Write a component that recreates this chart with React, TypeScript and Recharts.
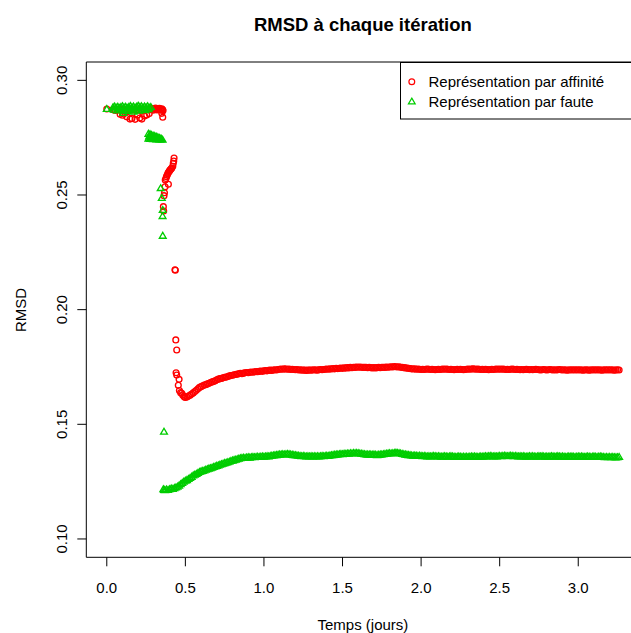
import { Legend, ReferenceLine, Scatter, ScatterChart, XAxis, YAxis } from 'recharts';

// RMSD à chaque itération : deux représentations, temps en jours
const affiniteDebut: [number, number][] = [
  [0, 0.2875],
  [0.04, 0.2872], [0.055, 0.2869], [0.07, 0.2873], [0.085, 0.287], [0.1, 0.2874], [0.115, 0.2871],
  [0.13, 0.2868], [0.145, 0.2872], [0.16, 0.287], [0.175, 0.2874], [0.19, 0.2869], [0.205, 0.2872],
  [0.22, 0.287], [0.235, 0.2873], [0.25, 0.2871], [0.265, 0.2874],
  [0.085, 0.2852], [0.1, 0.2848], [0.115, 0.2856], [0.127, 0.2841], [0.148, 0.2831], [0.16, 0.2834],
  [0.18, 0.283], [0.195, 0.2849], [0.21, 0.2836], [0.223, 0.2831], [0.24, 0.2845], [0.254, 0.2849],
  [0.27, 0.2855],
  [0.275, 0.2876], [0.28, 0.2872], [0.285, 0.2878], [0.29, 0.2874], [0.295, 0.287], [0.3, 0.2877],
  [0.305, 0.2873], [0.31, 0.2879], [0.315, 0.2875], [0.32, 0.2871], [0.325, 0.2876], [0.33, 0.2873],
  [0.335, 0.2878], [0.34, 0.2874], [0.345, 0.287], [0.35, 0.2876], [0.355, 0.2872], [0.358, 0.2868],
  [0.35, 0.2856], [0.356, 0.2839],
  [0.36, 0.2449], [0.362, 0.243], [0.364, 0.2497], [0.367, 0.251], [0.371, 0.2536], [0.372, 0.2565],
  [0.376, 0.2572], [0.38, 0.258], [0.384, 0.2586], [0.388, 0.2593], [0.392, 0.2598], [0.392, 0.2547],
  [0.396, 0.2602], [0.4, 0.2606], [0.404, 0.261], [0.408, 0.2613], [0.413, 0.2617], [0.42, 0.2625],
  [0.423, 0.2638], [0.426, 0.2648], [0.428, 0.2661],
  [0.434, 0.2174], [0.436, 0.2172], [0.439, 0.1868], [0.445, 0.1824], [0.441, 0.1725], [0.445, 0.1715],
  [0.46, 0.1696], [0.455, 0.167], [0.462, 0.1647], [0.47, 0.1638], [0.477, 0.1635], [0.483, 0.1628],
  [0.49, 0.1622], [0.495, 0.1619],
];

const fauteDebut: [number, number][] = [
  [0, 0.2874],
  [0.04, 0.2882], [0.05, 0.2885], [0.06, 0.288], [0.07, 0.2884], [0.08, 0.2879], [0.09, 0.2883],
  [0.1, 0.2886], [0.11, 0.2881], [0.12, 0.2884], [0.13, 0.2879], [0.14, 0.2883], [0.15, 0.2887],
  [0.16, 0.2882], [0.17, 0.2885], [0.18, 0.288], [0.19, 0.2884], [0.2, 0.2888], [0.21, 0.2883],
  [0.22, 0.2886], [0.23, 0.2881], [0.24, 0.2885], [0.25, 0.2882], [0.26, 0.2886], [0.27, 0.288],
  [0.28, 0.2883],
  [0.045, 0.2871], [0.065, 0.2868], [0.085, 0.2873], [0.105, 0.2869], [0.125, 0.2866], [0.145, 0.2872],
  [0.165, 0.2868], [0.185, 0.2871], [0.205, 0.2867], [0.225, 0.2872], [0.245, 0.2869], [0.265, 0.2873],
  [0.105, 0.2857], [0.17, 0.2862],
  [0.265, 0.2766], [0.275, 0.2764], [0.285, 0.2761], [0.295, 0.2758], [0.305, 0.2756], [0.315, 0.2753],
  [0.325, 0.2751], [0.335, 0.2748], [0.345, 0.2746],
  [0.27, 0.2755], [0.28, 0.2752], [0.29, 0.275], [0.3, 0.2749], [0.31, 0.2747],
  [0.265, 0.2745], [0.275, 0.2744], [0.285, 0.2745], [0.295, 0.2743], [0.305, 0.2744], [0.315, 0.2742],
  [0.325, 0.2743], [0.335, 0.2741], [0.345, 0.2742], [0.355, 0.274],
  [0.343, 0.2529], [0.35, 0.2486], [0.356, 0.2434], [0.355, 0.2407], [0.356, 0.2321], [0.364, 0.1467],
  [0.36, 0.1216], [0.365, 0.1213],
];

// plateaux échantillonnés tous les 0.01 jour
const pasPlateau = 0.01;
const affinitePlateauDebut = 0.5;
const affinitePlateau = [
  0.1617, 0.1619, 0.1623, 0.1627, 0.1632, 0.1637, 0.1643, 0.1648, 0.1655, 0.1661,
  0.1664, 0.1668, 0.1671, 0.1673, 0.1676, 0.1679, 0.1682, 0.1685, 0.1687, 0.169,
  0.1694, 0.1697, 0.1699, 0.17, 0.1703, 0.1705, 0.1706, 0.1708, 0.1711, 0.1713,
  0.1714, 0.1716, 0.1717, 0.1719, 0.172, 0.1722, 0.1721, 0.1723, 0.1725, 0.1726,
  0.1725, 0.1727, 0.1728, 0.1727, 0.1729, 0.173, 0.1729, 0.1731, 0.1732, 0.1731,
  0.1733, 0.1734, 0.1733, 0.1735, 0.1736, 0.1735, 0.1737, 0.1738, 0.1737, 0.1739,
  0.174, 0.1741, 0.174, 0.1742, 0.1741, 0.174, 0.1741, 0.1739, 0.174, 0.1739,
  0.1738, 0.1739, 0.1737, 0.1738, 0.1736, 0.1737, 0.1736, 0.1735, 0.1736, 0.1737,
  0.1736, 0.1737, 0.1738, 0.1737, 0.1736, 0.1738, 0.1739, 0.1738, 0.1739, 0.174,
  0.1741, 0.174, 0.1742, 0.1741, 0.1743, 0.1742, 0.1744, 0.1743, 0.1744, 0.1745,
  0.1744, 0.1746, 0.1745, 0.1747, 0.1746, 0.1748, 0.1747, 0.1749, 0.1748, 0.175,
  0.1749, 0.175, 0.1749, 0.1748, 0.1749, 0.1748, 0.1747, 0.1748, 0.1747, 0.1746,
  0.1747, 0.1746, 0.1747, 0.1748, 0.1747, 0.1748, 0.1749, 0.1748, 0.175, 0.1749,
  0.175, 0.1751, 0.175, 0.1752, 0.1751, 0.175, 0.1751, 0.1749, 0.1748, 0.1747,
  0.1746, 0.1745, 0.1744, 0.1743, 0.1742, 0.1741, 0.1742, 0.174, 0.1741, 0.174,
  0.1739, 0.174, 0.1739, 0.174, 0.1741, 0.174, 0.1739, 0.174, 0.1739, 0.1738,
  0.1739, 0.174, 0.1739, 0.174, 0.1741, 0.174, 0.1741, 0.174, 0.1739, 0.174,
  0.1739, 0.1738, 0.1739, 0.174, 0.1739, 0.174, 0.1739, 0.1738, 0.1739, 0.174,
  0.1741, 0.174, 0.1741, 0.1742, 0.1741, 0.174, 0.1741, 0.174, 0.1739, 0.174,
  0.1739, 0.174, 0.1739, 0.1738, 0.1739, 0.174, 0.1739, 0.174, 0.1741, 0.174,
  0.1741, 0.174, 0.1741, 0.174, 0.1739, 0.174, 0.1739, 0.174, 0.1741, 0.174,
  0.1739, 0.174, 0.1739, 0.1738, 0.1739, 0.1738, 0.1739, 0.174, 0.1739, 0.1738,
  0.1739, 0.1738, 0.1739, 0.174, 0.1739, 0.1738, 0.1737, 0.1738, 0.1739, 0.1738,
  0.1737, 0.1738, 0.1739, 0.1738, 0.1737, 0.1738, 0.1737, 0.1738, 0.1739, 0.1738,
  0.1737, 0.1738, 0.1737, 0.1736, 0.1737, 0.1738, 0.1737, 0.1738, 0.1737, 0.1738,
  0.1737, 0.1738, 0.1737, 0.1736, 0.1737, 0.1738, 0.1737, 0.1736, 0.1737, 0.1738,
  0.1737, 0.1738, 0.1737, 0.1738, 0.1737, 0.1736, 0.1737, 0.1738, 0.1737, 0.1738,
  0.1737, 0.1738, 0.1737, 0.1736, 0.1737, 0.1738, 0.1737,
];

const fautePlateauDebut = 0.37;
const fautePlateau = [
  0.1212, 0.1215, 0.1213,
  0.1216, 0.1219, 0.1217, 0.1221, 0.1224, 0.1227, 0.1232, 0.1238, 0.1243, 0.1249,
  0.1253, 0.1256, 0.1261, 0.1265, 0.127, 0.1276, 0.1279, 0.1283, 0.1287, 0.1291,
  0.1294, 0.1296, 0.1298, 0.1301, 0.1303, 0.1306, 0.1308, 0.131, 0.1313, 0.1315,
  0.1318, 0.132, 0.1323, 0.1325, 0.1327, 0.133, 0.1332, 0.1334, 0.1336, 0.1339,
  0.1341, 0.1343, 0.1345, 0.1347, 0.1349, 0.1351, 0.1352, 0.1353, 0.1352, 0.1354,
  0.1355, 0.1354, 0.1356, 0.1357, 0.1356, 0.1357, 0.1358, 0.1357, 0.1358, 0.1359,
  0.1358, 0.1359, 0.136, 0.1359, 0.1361, 0.1362, 0.1363, 0.1364, 0.1365, 0.1366,
  0.1367, 0.1368, 0.1369, 0.1368, 0.1369, 0.137, 0.1369, 0.1368, 0.1366, 0.1365,
  0.1364, 0.1363, 0.1362, 0.1361, 0.136, 0.1361, 0.136, 0.1359, 0.136, 0.1359,
  0.136, 0.1359, 0.136, 0.1359, 0.136, 0.1359, 0.136, 0.1361, 0.136, 0.1361,
  0.1362, 0.1361, 0.1363, 0.1364, 0.1365, 0.1366, 0.1367, 0.1368, 0.1369, 0.137,
  0.1369, 0.1371, 0.137, 0.1372, 0.1371, 0.1373, 0.1372, 0.1374, 0.1373, 0.1374,
  0.1373, 0.1372, 0.1371, 0.137, 0.1369, 0.1368, 0.1367, 0.1368, 0.1367, 0.1366,
  0.1367, 0.1366, 0.1365, 0.1366, 0.1367, 0.1368, 0.1369, 0.137, 0.1371, 0.1372,
  0.1373, 0.1372, 0.1373, 0.1374, 0.1375, 0.1374, 0.1373, 0.1372, 0.137, 0.1369,
  0.1367, 0.1366, 0.1365, 0.1364, 0.1363, 0.1362, 0.1363, 0.1362, 0.1361, 0.1362,
  0.1361, 0.136, 0.1361, 0.136, 0.1359, 0.136, 0.1359, 0.136, 0.1361, 0.136,
  0.1359, 0.136, 0.1359, 0.1358, 0.1359, 0.136, 0.1359, 0.1358, 0.1359, 0.136,
  0.1359, 0.1358, 0.1357, 0.1358, 0.1359, 0.1358, 0.1357, 0.1358, 0.1357, 0.1358,
  0.1357, 0.1358, 0.1359, 0.1358, 0.1359, 0.1358, 0.1357, 0.1358, 0.1359, 0.1358,
  0.1359, 0.136, 0.1359, 0.136, 0.1361, 0.136, 0.1359, 0.136, 0.1359, 0.136,
  0.1361, 0.136, 0.1361, 0.1362, 0.1361, 0.136, 0.1361, 0.1362, 0.1361, 0.136,
  0.1361, 0.136, 0.1359, 0.136, 0.1359, 0.136, 0.1359, 0.1358, 0.1359, 0.136,
  0.1359, 0.136, 0.1359, 0.1358, 0.1359, 0.136, 0.1359, 0.136, 0.1359, 0.1358,
  0.1359, 0.1358, 0.1359, 0.136, 0.1359, 0.1358, 0.1359, 0.136, 0.1359, 0.1358,
  0.1359, 0.1358, 0.1357, 0.1358, 0.1359, 0.1358, 0.1359, 0.1358, 0.1357, 0.1358,
  0.1359, 0.1358, 0.1359, 0.1358, 0.1357, 0.1358, 0.1359, 0.1358, 0.1357, 0.1358,
  0.1359, 0.1358, 0.1357, 0.1358, 0.1359, 0.1358, 0.1357, 0.1356, 0.1357, 0.1356,
  0.1357, 0.1356, 0.1357, 0.1356, 0.1355, 0.1356, 0.1357,
];

const xTicks = [0, 0.5, 1, 1.5, 2, 2.5, 3];
const yTicks = [0.1, 0.15, 0.2, 0.25, 0.3];
const xDomain = [-0.1304, 3.3904];
const yDomain = [0.092, 0.308];

const rouge = '#FF0000';
const vert = '#00CD00';
const police = '"Liberation Sans", Arial, Helvetica, sans-serif';

const versPoints = (debut: [number, number][], plateau: number[], t0: number) => [
  ...debut.map(([t, rmsd]) => ({ t, rmsd })),
  ...plateau.map((rmsd, i) => ({ t: Math.round((t0 + i * pasPlateau) * 1000) / 1000, rmsd })),
];

const affinite = versPoints(affiniteDebut, affinitePlateau, affinitePlateauDebut);
const faute = versPoints(fauteDebut, fautePlateau, fautePlateauDebut);

function Cercle(p: any) {
  if (p.cx == null || p.cy == null) return <g />;
  return <circle cx={p.cx} cy={p.cy} r={2.9} fill="none" stroke={rouge} strokeWidth={1.35} />;
}

function Triangle(p: any) {
  if (p.cx == null || p.cy == null) return <g />;
  const { cx, cy } = p;
  return (
    <path
      d={`M${cx},${cy - 3.6}L${cx + 3.4},${cy + 2.2}L${cx - 3.4},${cy + 2.2}Z`}
      fill="none"
      stroke={vert}
      strokeWidth={1.35}
    />
  );
}

function XTick({ x, y, payload }: any) {
  return (
    <text x={x} y={y + 25} textAnchor="middle" fontSize={15} fontFamily={police} fill="#000">
      {Number(payload.value).toFixed(1)}
    </text>
  );
}

function YTick({ x, y, payload }: any) {
  const bx = x - 8;
  return (
    <text
      x={bx}
      y={y}
      transform={`rotate(-90 ${bx} ${y})`}
      textAnchor="middle"
      fontSize={15}
      fontFamily={police}
      fill="#000"
    >
      {Number(payload.value).toFixed(2)}
    </text>
  );
}

function Legende() {
  return (
    <svg width={250} height={58} style={{ display: 'block' }}>
      <rect x={0.5} y={0.5} width={260} height={56.5} fill="#fff" stroke="#000" strokeWidth={1} />
      <circle cx={11.8} cy={19.7} r={2.9} fill="none" stroke={rouge} strokeWidth={1.2} />
      <path d="M11.8,36.1L15.2,41.9L8.4,41.9Z" fill="none" stroke={vert} strokeWidth={1.2} />
      <text x={28.5} y={25} fontSize={15} fontFamily={police} fill="#000">
        Représentation par affinité
      </text>
      <text x={28.5} y={45} fontSize={15} fontFamily={police} fill="#000">
        Représentation par faute
      </text>
    </svg>
  );
}

export default function App() {
  return (
    <div
      style={{
        position: 'absolute',
        left: 0,
        top: 0,
        width: 631,
        height: 633,
        overflow: 'hidden',
        background: '#fff',
      }}
    >
      <ScatterChart width={660} height={633} margin={{ top: 62, right: 20.4, bottom: 0, left: 0 }}>
        <XAxis
          type="number"
          dataKey="t"
          domain={xDomain}
          ticks={xTicks}
          allowDataOverflow
          height={75.7}
          tickSize={9}
          tick={<XTick />}
          stroke="#000"
          interval={0}
        />
        <YAxis
          type="number"
          dataKey="rmsd"
          domain={yDomain}
          ticks={yTicks}
          allowDataOverflow
          width={86.3}
          tickSize={9}
          tick={<YTick />}
          stroke="#000"
          interval={0}
        />
        <ReferenceLine y={yDomain[1]} stroke="#000" strokeWidth={1} />
        <ReferenceLine x={xDomain[1]} stroke="#000" strokeWidth={1} />
        <Scatter
          name="Représentation par affinité"
          data={affinite}
          shape={<Cercle />}
          isAnimationActive={false}
        />
        <Scatter
          name="Représentation par faute"
          data={faute}
          shape={<Triangle />}
          isAnimationActive={false}
        />
        <Legend
          layout="horizontal"
          verticalAlign="middle"
          align="center"
          content={() => <Legende />}
          wrapperStyle={{ position: 'absolute', left: 400, top: 62, width: 250, height: 58 }}
        />
      </ScatterChart>
      <svg
        width={631}
        height={633}
        style={{ position: 'absolute', left: 0, top: 0, pointerEvents: 'none' }}
      >
        <text x={362.9} y={30.5} textAnchor="middle" fontSize={18.5} fontWeight="bold" fontFamily={police}>
          RMSD à chaque itération
        </text>
        <text x={362.9} y={630} textAnchor="middle" fontSize={15} fontFamily={police}>
          Temps (jours)
        </text>
        <text x={26} y={310} transform="rotate(-90 26 310)" textAnchor="middle" fontSize={15} fontFamily={police}>
          RMSD
        </text>
      </svg>
    </div>
  );
}
